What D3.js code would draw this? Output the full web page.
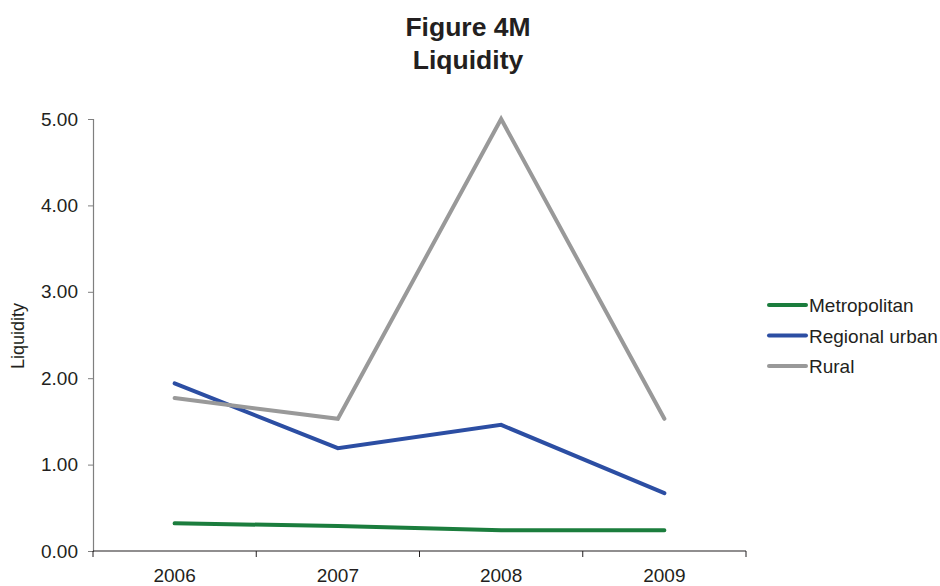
<!DOCTYPE html>
<html>
<head>
<meta charset="utf-8">
<script src="https://cdn.jsdelivr.net/npm/d3@7"></script>
<style>
  body { margin: 0; background: #fff; }
  svg { font-family: "Liberation Sans", Arial, sans-serif; }
</style>
</head>
<body>
<svg id="chart" width="940" height="586"></svg>
<script>
// Liquidity by region type, 2006–2009
const years = ["2006", "2007", "2008", "2009"];
const metropolitan = [0.32, 0.29, 0.24, 0.24];
const regionalUrban = [1.94, 1.19, 1.46, 0.67];
const rural = [1.77, 1.53, 5.00, 1.53];
const yTicks = [0, 1, 2, 3, 4, 5];

const series = [
  { name: "Metropolitan", values: metropolitan, color: "#1b7d3d" },
  { name: "Regional urban", values: regionalUrban, color: "#2c4ea3" },
  { name: "Rural", values: rural, color: "#999999" }
];

const svg = d3.select("#chart");
const margin = { left: 93, right: 194, top: 119, bottom: 35 };
const W = 940, H = 586;

const x = d3.scaleBand().domain(years).range([margin.left, W - margin.right]);
const y = d3.scaleLinear().domain([0, 5]).range([H - margin.bottom, margin.top]);

// Title
svg.append("text").attr("x", 468).attr("y", 36).attr("text-anchor", "middle")
  .attr("font-size", 26.5).attr("font-weight", "bold").attr("fill", "#231f20").text("Figure 4M");
svg.append("text").attr("x", 468).attr("y", 69).attr("text-anchor", "middle")
  .attr("font-size", 26.5).attr("font-weight", "bold").attr("fill", "#231f20").text("Liquidity");

// Y axis
const yAxis = svg.append("g").attr("transform", `translate(${margin.left},0)`)
  .call(d3.axisLeft(y).tickValues(yTicks).tickFormat(d3.format(".2f")).tickSize(5).tickPadding(10));
yAxis.select(".domain").attr("stroke", "#7f7f7f").attr("stroke-width", 1.2);
yAxis.selectAll(".tick line").attr("stroke", "#7f7f7f");
yAxis.selectAll("text").attr("font-size", 19).attr("fill", "#231f20")
  .attr("font-family", "Liberation Sans, Arial, sans-serif");

// X axis: tick marks at band edges, labels centred in bands
const xg = svg.append("g").attr("transform", `translate(0,${y(0)})`);
xg.append("line").attr("x1", margin.left).attr("x2", W - margin.right)
  .attr("stroke", "#231f20").attr("stroke-width", 1.2);
const edges = years.map(d => x(d)).concat([x(years[years.length - 1]) + x.bandwidth()]);
xg.selectAll("line.edge").data(edges).enter().append("line").attr("class", "edge")
  .attr("x1", d => d).attr("x2", d => d).attr("y1", 0).attr("y2", 6)
  .attr("stroke", "#231f20").attr("stroke-width", 1);
xg.selectAll("text").data(years).enter().append("text")
  .attr("x", d => x(d) + x.bandwidth() / 2).attr("y", 31)
  .attr("text-anchor", "middle").attr("font-size", 19).attr("fill", "#231f20").text(d => d);

// Y axis title
svg.append("text").attr("transform", "translate(24,336) rotate(-90)")
  .attr("text-anchor", "middle").attr("font-size", 18).attr("fill", "#231f20").text("Liquidity");

// Lines
const line = d3.line()
  .x((d, i) => x(years[i]) + x.bandwidth() / 2)
  .y(d => y(d));
svg.selectAll("path.series").data(series).enter().append("path").attr("class", "series")
  .attr("d", d => line(d.values)).attr("fill", "none")
  .attr("stroke", d => d.color).attr("stroke-width", 4)
  .attr("stroke-linejoin", "miter").attr("stroke-linecap", "round");

// Legend
const lg = svg.append("g").attr("transform", "translate(769,305)");
const item = lg.selectAll("g").data(series).enter().append("g")
  .attr("transform", (d, i) => `translate(0,${i * 30.5})`);
item.append("line").attr("x1", 0).attr("x2", 37).attr("stroke", d => d.color)
  .attr("stroke-width", 4).attr("stroke-linecap", "round");
item.append("text").attr("x", 40).attr("y", 7).attr("font-size", 19).attr("fill", "#231f20")
  .text(d => d.name);
</script>
</body>
</html>
